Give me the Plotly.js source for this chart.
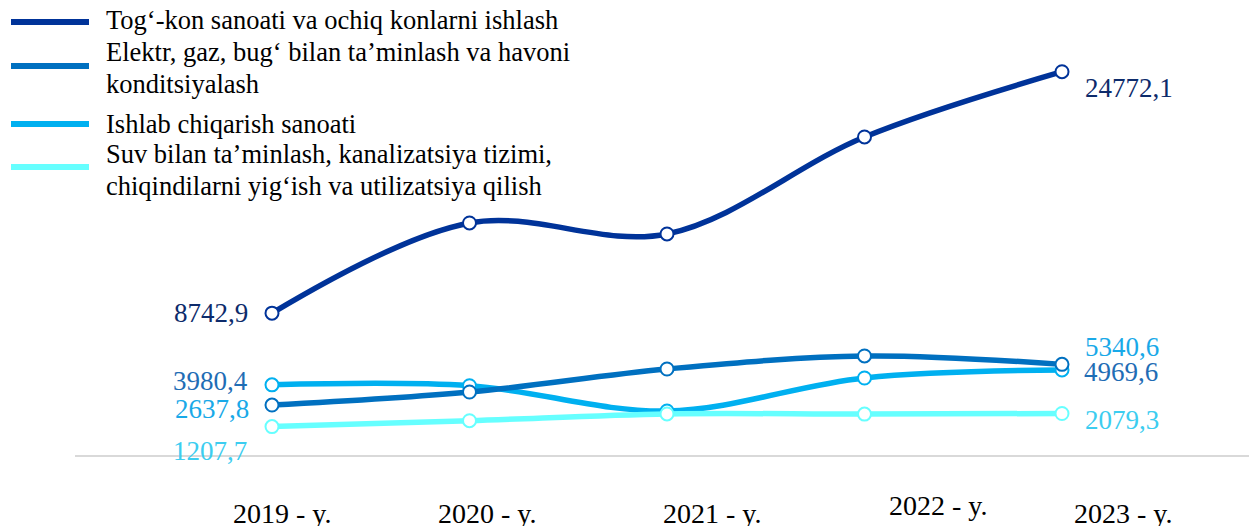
<!DOCTYPE html>
<html>
<head>
<meta charset="utf-8">
<script src="https://cdn.plot.ly/plotly-3.0.1.min.js"></script>
<style>html,body{margin:0;padding:0;background:#fff;}#chart{width:1249px;height:526px;}</style>
</head>
<body>
<div id="chart"></div>
<script>
// ---- data ----
const years = ['2019', '2020', '2021', '2022', '2023'];
const tickLabels = ['2019 - y.', '2020 - y.', '2021 - y.', '2022 - y.', '2023 - y.'];
const seriesNames = [
  'Tog‘-kon sanoati va ochiq konlarni ishlash',
  'Elektr, gaz, bug‘ bilan ta’minlash va havoni konditsiyalash',
  'Ishlab chiqarish sanoati',
  'Suv bilan ta’minlash, kanalizatsiya tizimi, chiqindilarni yig‘ish va utilizatsiya qilish'
];
const togKon = [8742.9, 14730, 14000, 20440, 24772.1];
const elektr = [2637.8, 3506, 5033, 5900, 5340.6];
const ishlab = [3980.4, 3920, 2244, 4436, 4969.6];
const suv    = [1207.7, 1600, 2050, 2040, 2079.3];

// ---- styles ----
const W = 1249, H = 526;
const colTog = '#003399', colEl = '#0070C0', colIsh = '#00B0F0', colSuv = '#66FFFF';
const font = '"Liberation Serif", "Times New Roman", serif';
const px = x => x / W;
const py = y => 1 - y / H;
const fmt = v => v.toFixed(1).replace('.', ',');

function tr(name, y, color) {
  return {
    type: 'scatter', mode: 'lines+markers', name: name, x: years, y: y,
    line: {color: color, width: 5.5, shape: 'spline', smoothing: 1},
    marker: {symbol: 'circle', size: 13, color: '#ffffff', line: {color: color, width: 2}},
    hoverinfo: 'x+y', cliponaxis: false
  };
}
const traces = [
  tr(seriesNames[0], togKon, colTog),
  tr(seriesNames[2], ishlab, colIsh),
  tr(seriesNames[1], elektr, colEl),
  tr(seriesNames[3], suv, colSuv)
];

const annotations = [];
const shapes = [];
// baseline
shapes.push({type: 'line', xref: 'paper', yref: 'paper', x0: px(75), x1: 1, y0: py(456), y1: py(456),
  line: {color: '#d9d9d9', width: 2}});

// custom legend
const legendItems = [
  {color: colTog, ly: 22, lines: ['Tog‘-kon sanoati va ochiq konlarni ishlash'], ty: [20]},
  {color: colEl, ly: 66, lines: ['Elektr, gaz, bug‘ bilan ta’minlash va havoni', 'konditsiyalash'], ty: [52, 84]},
  {color: colIsh, ly: 124, lines: ['Ishlab chiqarish sanoati'], ty: [124]},
  {color: colSuv, ly: 167, lines: ['Suv bilan ta’minlash, kanalizatsiya tizimi,', 'chiqindilarni yig‘ish va utilizatsiya qilish'], ty: [154, 186]}
];
legendItems.forEach(it => {
  shapes.push({type: 'line', xref: 'paper', yref: 'paper', x0: px(11), x1: px(89), y0: py(it.ly), y1: py(it.ly),
    line: {color: it.color, width: 6}});
  it.lines.forEach((t, i) => annotations.push({
    xref: 'paper', yref: 'paper', x: px(104), y: py(it.ty[i]), xanchor: 'left', yanchor: 'middle',
    text: t, showarrow: false, font: {family: font, size: 26.5, color: '#000000'}
  }));
});

// x tick labels
const tickPos = [[282, 513], [487, 513], [712, 513], [938, 505], [1123, 513]];
tickLabels.forEach((t, i) => annotations.push({
  xref: 'paper', yref: 'paper', x: px(tickPos[i][0]), y: py(tickPos[i][1]), xanchor: 'center', yanchor: 'middle',
  text: t, showarrow: false, font: {family: font, size: 28, color: '#000000'}
}));

// data labels
const dl = [
  [togKon[0], 211, 313, '#0D2B6B'],
  [togKon[4], 1129, 88, '#0D2B6B'],
  [ishlab[0], 210, 381, '#1F6DB5'],
  [elektr[0], 212, 409, '#19A9E8'],
  [suv[0], 210, 451, '#3CCDF0'],
  [elektr[4], 1122, 347, '#19A9E8'],
  [ishlab[4], 1121, 372, '#1F6DB5'],
  [suv[4], 1122, 420, '#3CCDF0']
];
dl.forEach(d => annotations.push({
  xref: 'paper', yref: 'paper', x: px(d[1]), y: py(d[2]), xanchor: 'center', yanchor: 'middle',
  text: fmt(d[0]), showarrow: false, font: {family: font, size: 27, color: d[3]}
}));

const layout = {
  width: W, height: H,
  margin: {l: 0, r: 0, t: 0, b: 0, pad: 0},
  paper_bgcolor: '#ffffff', plot_bgcolor: '#ffffff',
  showlegend: false,
  xaxis: {type: 'category', range: [(0 - 272) / 197.5, (W - 272) / 197.5], visible: false,
    showgrid: false, zeroline: false, fixedrange: true},
  yaxis: {range: [(444.8 - H) * 66.4, 444.8 * 66.4], visible: false, showgrid: false, zeroline: false, fixedrange: true},
  shapes: shapes,
  annotations: annotations,
  font: {family: font}
};
Plotly.newPlot('chart', traces, layout, {displayModeBar: false, staticPlot: true});
</script>
</body>
</html>
